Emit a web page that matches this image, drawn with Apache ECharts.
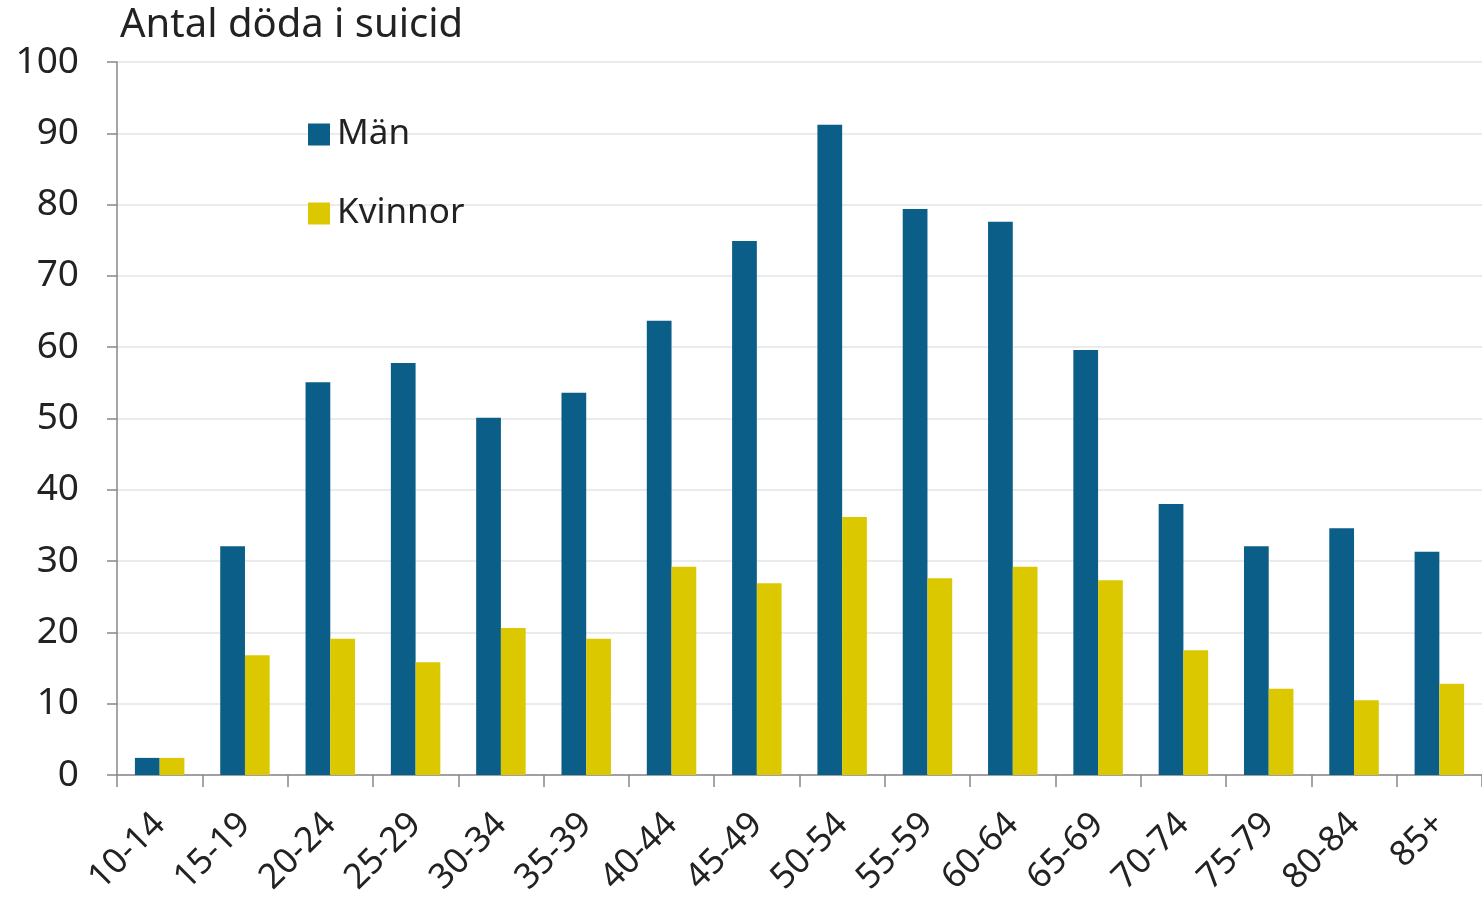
<!DOCTYPE html>
<html>
<head>
<meta charset="utf-8">
<script src="https://cdn.jsdelivr.net/npm/echarts@6/dist/echarts.min.js"></script>
<style>
html,body{margin:0;padding:0;background:#fff;}
#chart{width:1482px;height:908px;}
</style>
</head>
<body>
<div id="chart"></div>
<script>
const categories = ['10-14','15-19','20-24','25-29','30-34','35-39','40-44','45-49','50-54','55-59','60-64','65-69','70-74','75-79','80-84','85+'];
const manValues = [2.4, 32.1, 55.1, 57.8, 50.1, 53.6, 63.7, 74.9, 91.2, 79.4, 77.6, 59.6, 38.0, 32.1, 34.6, 31.3];
const kvinnorValues = [2.4, 16.8, 19.1, 15.8, 20.6, 19.1, 29.2, 26.9, 36.2, 27.6, 29.2, 27.3, 17.5, 12.1, 10.5, 12.8];
const yTicks = {min: 0, max: 100, interval: 10};
const titleText = 'Antal döda i suicid';

const font = 'Noto Sans';
const chart = echarts.init(document.getElementById('chart'), null, {renderer: 'canvas'});
chart.setOption({
  animation: false,
  backgroundColor: '#ffffff',
  title: {
    text: titleText,
    left: 115,
    top: 1,
    textStyle: {fontFamily: font, fontSize: 40, fontWeight: 'normal', color: '#222'}
  },
  legend: {
    orient: 'vertical',
    left: 303,
    top: 112,
    itemGap: 44,
    itemWidth: 22,
    itemHeight: 22,
    icon: 'rect',
    textStyle: {fontFamily: font, fontSize: 35, color: '#222', padding: [0, 0, 0, 2]},
    data: ['Män', 'Kvinnor']
  },
  grid: {left: 117, right: -9, top: 62, bottom: 133, containLabel: false},
  xAxis: {
    type: 'category',
    data: categories,
    axisLine: {lineStyle: {color: '#888', width: 1.5}},
    axisTick: {show: true, length: 12, lineStyle: {color: '#888', width: 1.5}},
    axisLabel: {rotate: 45, fontFamily: font, fontSize: 35, color: '#222', margin: 44, interval: 0}
  },
  yAxis: {
    type: 'value',
    min: yTicks.min,
    max: yTicks.max,
    interval: yTicks.interval,
    axisLine: {show: true, lineStyle: {color: '#888', width: 1.5}},
    axisTick: {show: true, length: 10, lineStyle: {color: '#888', width: 1.5}},
    axisLabel: {fontFamily: font, fontSize: 37, color: '#222', margin: 38},
    splitLine: {lineStyle: {color: '#e4e4e4', width: 1.5}}
  },
  series: [
    {name: 'Män', type: 'bar', data: manValues, barGap: '0%', barCategoryGap: '42%', itemStyle: {color: '#0b5e87'}},
    {name: 'Kvinnor', type: 'bar', data: kvinnorValues, barGap: '0%', barCategoryGap: '42%', itemStyle: {color: '#dcc800'}}
  ]
});
</script>
</body>
</html>
